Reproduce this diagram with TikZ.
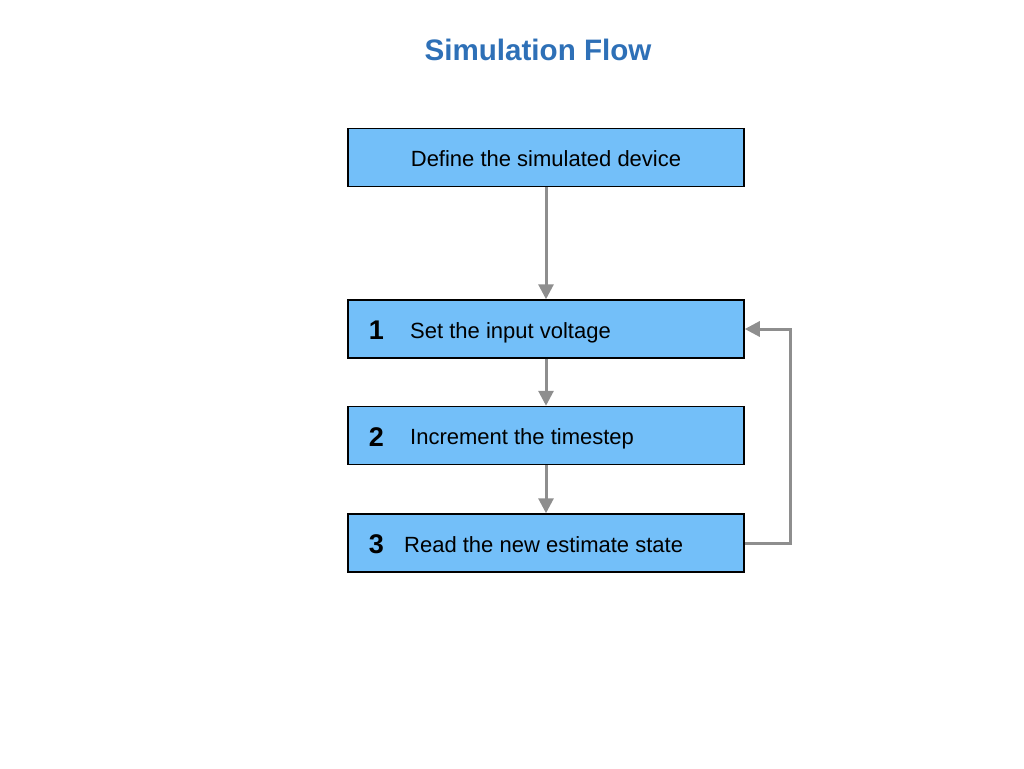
\documentclass[tikz,border=0pt]{standalone}
\usepackage{fontspec}
\setmainfont{Liberation Sans}
\usetikzlibrary{arrows.meta}
\definecolor{titleblue}{RGB}{46,112,183}
\definecolor{boxblue}{RGB}{115,191,249}
\definecolor{arrgray}{RGB}{142,142,142}
\begin{document}
\begin{tikzpicture}[x=1pt,y=-1pt,
  stepbox/.style={draw=black,line width=1.5pt,fill=boxblue,minimum width=396pt,minimum height=58pt,inner sep=0pt},
  numtxt/.style={font=\fontsize{27}{30}\selectfont\bfseries,inner sep=0pt,anchor=base},
  lbltxt/.style={font=\fontsize{22}{26}\selectfont,inner sep=0pt,anchor=base west},
  flow/.style={draw=arrgray,line width=3pt,-{Triangle[width=15pt,length=15pt]}}]
\useasboundingbox (0,0) rectangle (1024,768);
\node[font=\fontsize{29.6}{34}\selectfont\bfseries,text=titleblue] (title) at (538,50) {Simulation Flow};
\node[stepbox] (b0) at (546,157.5) {};
\node[font=\fontsize{22}{26}\selectfont,inner sep=0pt,anchor=base] (t0) at (546,166) {Define the simulated device};
\node[stepbox] (b1) at (546,329) {};
\node[numtxt] (n1) at (376.5,339.5) {1};
\node[lbltxt] (t1) at (410,338) {Set the input voltage};
\node[stepbox] (b2) at (546,435.5) {};
\node[numtxt] (n2) at (376.5,446) {2};
\node[lbltxt] (t2) at (410,444.5) {Increment the timestep};
\node[stepbox] (b3) at (546,543) {};
\node[numtxt] (n3) at (376.5,553.5) {3};
\node[lbltxt] (t3) at (404,552) {Read the new estimate state};
\draw[flow] (b0.south) -- (b1.north);
\draw[flow] (b1.south) -- (b2.north);
\draw[flow] (b2.south) -- (b3.north);
\coordinate (c1) at (790,543);
\coordinate (c2) at (790,329);
\draw[flow] (b3.east) -- (c1) -- (c2) -- (b1.east);
\end{tikzpicture}
\end{document}
